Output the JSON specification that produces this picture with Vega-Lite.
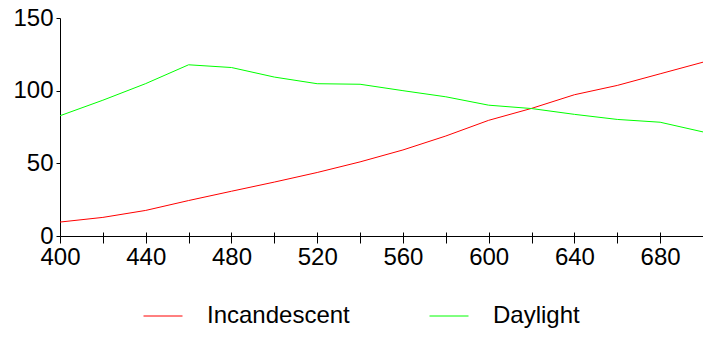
{
  "$schema": "https://vega.github.io/schema/vega-lite/v6.json",
  "autosize": "none",
  "width": 643,
  "height": 218,
  "padding": {"left": 60, "top": 18, "right": 0, "bottom": 101},
  "background": "white",
  "config": {
    "view": {"stroke": null},
    "font": "Liberation Sans",
    "axis": {"grid": false, "title": null, "domainColor": "#000", "tickColor": "#000", "labelColor": "#000", "labelFont": "Liberation Sans", "labelFontSize": 24, "domainWidth": 1, "tickWidth": 1}
  },
  "data": {
    "values": [
      {"wl": 400, "series": "Incandescent", "v": 9.6},
      {"wl": 420, "series": "Incandescent", "v": 12.8},
      {"wl": 440, "series": "Incandescent", "v": 17.6},
      {"wl": 460, "series": "Incandescent", "v": 24.4},
      {"wl": 480, "series": "Incandescent", "v": 30.8},
      {"wl": 500, "series": "Incandescent", "v": 37.1},
      {"wl": 520, "series": "Incandescent", "v": 43.7},
      {"wl": 540, "series": "Incandescent", "v": 51.0},
      {"wl": 560, "series": "Incandescent", "v": 59.2},
      {"wl": 580, "series": "Incandescent", "v": 68.8},
      {"wl": 600, "series": "Incandescent", "v": 79.6},
      {"wl": 620, "series": "Incandescent", "v": 87.8},
      {"wl": 640, "series": "Incandescent", "v": 97.2},
      {"wl": 660, "series": "Incandescent", "v": 103.6},
      {"wl": 680, "series": "Incandescent", "v": 111.6},
      {"wl": 700, "series": "Incandescent", "v": 119.6},
      {"wl": 400, "series": "Daylight", "v": 82.75},
      {"wl": 420, "series": "Daylight", "v": 93.43},
      {"wl": 440, "series": "Daylight", "v": 104.86},
      {"wl": 460, "series": "Daylight", "v": 117.81},
      {"wl": 480, "series": "Daylight", "v": 115.92},
      {"wl": 500, "series": "Daylight", "v": 109.35},
      {"wl": 520, "series": "Daylight", "v": 104.79},
      {"wl": 540, "series": "Daylight", "v": 104.41},
      {"wl": 560, "series": "Daylight", "v": 100.0},
      {"wl": 580, "series": "Daylight", "v": 95.79},
      {"wl": 600, "series": "Daylight", "v": 90.01},
      {"wl": 620, "series": "Daylight", "v": 87.70},
      {"wl": 640, "series": "Daylight", "v": 83.70},
      {"wl": 660, "series": "Daylight", "v": 80.21},
      {"wl": 680, "series": "Daylight", "v": 78.28},
      {"wl": 700, "series": "Daylight", "v": 71.61}
    ]
  },
  "resolve": {"axis": {"x": "independent"}},
  "layer": [
    {
      "mark": {"type": "line", "strokeWidth": 1, "opacity": 0},
      "encoding": {
        "x": {
          "field": "wl", "type": "quantitative",
          "scale": {"domain": [400, 700], "nice": false, "zero": false},
          "axis": {"orient": "bottom", "values": [420,440,460,480,500,520,540,560,580,600,620,640,660,680], "tickSize": -4, "labels": false, "domain": false}
        },
        "y": {
          "field": "v", "type": "quantitative",
          "scale": {"domain": [0, 150], "nice": false}
        },
        "detail": {"field": "series"}
      }
    },
    {
      "mark": {"type": "line", "strokeWidth": 1, "clip": false},
      "encoding": {
        "x": {
          "field": "wl", "type": "quantitative",
          "scale": {"domain": [400, 700], "nice": false, "zero": false},
          "axis": {"orient": "bottom", "values": [400,420,440,460,480,500,520,540,560,580,600,620,640,660,680,700], "tickSize": 7, "labelPadding": 2, "labelExpr": "datum.value % 40 == 0 ? datum.label : ''", "labelOverlap": false, "labelFlush": false}
        },
        "y": {
          "field": "v", "type": "quantitative",
          "scale": {"domain": [0, 150], "nice": false},
          "axis": {"values": [0, 50, 100, 150], "tickSize": 4, "labelPadding": 3, "labelBaseline": "middle"}
        },
        "color": {
          "field": "series", "type": "nominal",
          "scale": {"domain": ["Incandescent", "Daylight"], "range": ["#ff0000", "#00ff00"]},
          "legend": {
            "title": null, "orient": "none", "direction": "horizontal",
            "legendX": 83, "legendY": 278,
            "symbolType": "stroke", "symbolSize": 1521, "symbolStrokeWidth": 1,
            "labelFontSize": 24, "labelFont": "Liberation Sans", "labelColor": "#000",
            "labelOffset": 24, "columnPadding": 77, "labelLimit": 300
          }
        }
      }
    }
  ]
}
